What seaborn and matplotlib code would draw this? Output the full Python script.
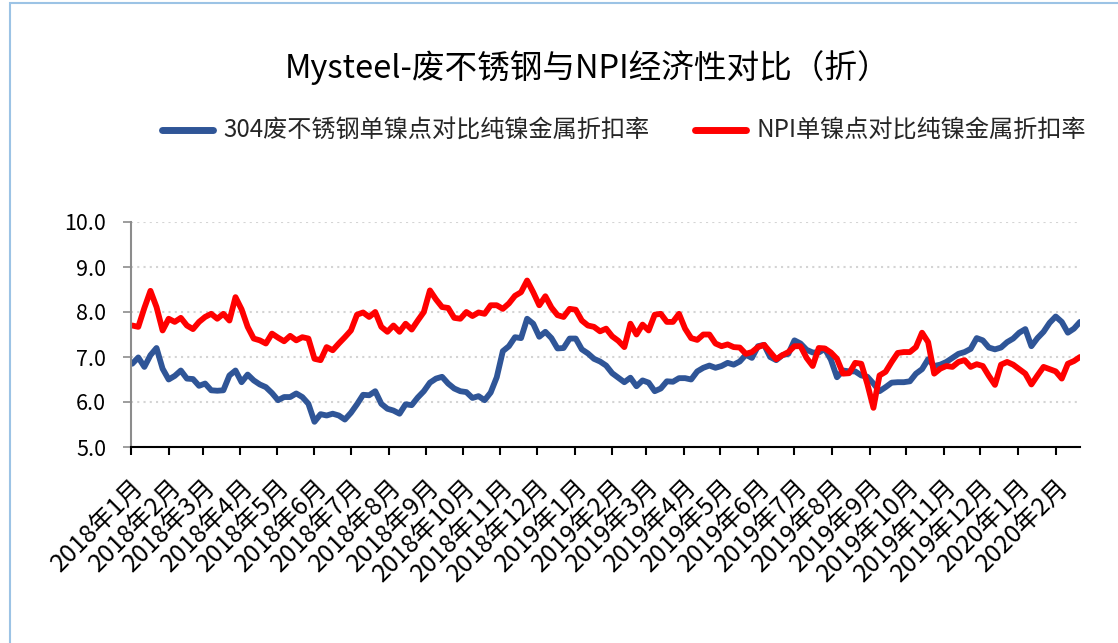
import matplotlib
matplotlib.use("Agg")
import matplotlib.pyplot as plt
import matplotlib.dates as mdates
from matplotlib.lines import Line2D
from matplotlib.patches import Rectangle
from matplotlib.ticker import FuncFormatter
import seaborn as sns
import numpy as np
import pandas as pd

# Data (one point every 5 days)
dates = pd.date_range("2018-01-02", periods=157, freq="5D")

scrap_name = "304废不锈钢单镍点对比纯镍金属折扣率"
npi_name = "NPI单镍点对比纯镍金属折扣率"

scrap_304 = [
    6.85, 6.99, 6.78, 7.04, 7.20, 6.74, 6.50, 6.58, 6.70, 6.52,
    6.51, 6.36, 6.41, 6.26, 6.25, 6.26, 6.59, 6.70, 6.44, 6.61,
    6.48, 6.39, 6.33, 6.20, 6.04, 6.11, 6.11, 6.19, 6.11, 5.96,
    5.56, 5.73, 5.70, 5.74, 5.70, 5.61, 5.76, 5.95, 6.16, 6.15,
    6.24, 5.96, 5.85, 5.81, 5.74, 5.95, 5.93, 6.10, 6.24, 6.43,
    6.52, 6.56, 6.41, 6.30, 6.24, 6.22, 6.09, 6.13, 6.04, 6.21,
    6.55, 7.13, 7.24, 7.44, 7.42, 7.85, 7.74, 7.45, 7.56, 7.42,
    7.19, 7.20, 7.41, 7.41, 7.17, 7.08, 6.96, 6.90, 6.81, 6.64,
    6.54, 6.44, 6.54, 6.35, 6.48, 6.43, 6.24, 6.30, 6.46, 6.45,
    6.53, 6.53, 6.50, 6.68, 6.76, 6.81, 6.76, 6.80, 6.87, 6.83,
    6.90, 7.05, 6.98, 7.24, 7.27, 7.00, 6.93, 7.04, 7.07, 7.37,
    7.30, 7.16, 7.10, 7.10, 7.18, 6.94, 6.55, 6.70, 6.68, 6.68,
    6.59, 6.56, 6.41, 6.24, 6.33, 6.43, 6.44, 6.44, 6.46, 6.63,
    6.73, 6.95, 6.80, 6.83, 6.89, 6.98, 7.07, 7.11, 7.18, 7.42,
    7.37, 7.21, 7.17, 7.21, 7.33, 7.41, 7.54, 7.62, 7.24, 7.42,
    7.56, 7.76, 7.90, 7.78, 7.54, 7.63, 7.78,
]

npi = [
    7.70, 7.67, 8.09, 8.47, 8.11, 7.59, 7.85, 7.78, 7.87, 7.70,
    7.62, 7.78, 7.89, 7.96, 7.85, 7.96, 7.81, 8.33, 8.06, 7.67,
    7.41, 7.37, 7.30, 7.52, 7.43, 7.35, 7.47, 7.37, 7.44, 7.41,
    6.96, 6.93, 7.22, 7.15, 7.30, 7.44, 7.59, 7.94, 7.99, 7.89,
    8.00, 7.67, 7.56, 7.70, 7.56, 7.74, 7.61, 7.81, 8.00, 8.48,
    8.28, 8.11, 8.09, 7.87, 7.85, 8.00, 7.91, 7.99, 7.96, 8.15,
    8.15, 8.07, 8.19, 8.36, 8.44, 8.70, 8.44, 8.15, 8.35, 8.10,
    7.93, 7.89, 8.07, 8.05, 7.81, 7.70, 7.67, 7.57, 7.63, 7.46,
    7.36, 7.22, 7.74, 7.50, 7.72, 7.59, 7.94, 7.96, 7.78, 7.78,
    7.96, 7.63, 7.42, 7.38, 7.50, 7.50, 7.30, 7.24, 7.28, 7.22,
    7.21, 7.07, 7.11, 7.22, 7.27, 7.11, 6.95, 7.04, 7.11, 7.24,
    7.24, 6.98, 6.80, 7.20, 7.19, 7.10, 6.96, 6.63, 6.64, 6.87,
    6.85, 6.40, 5.87, 6.59, 6.67, 6.89, 7.09, 7.11, 7.11, 7.22,
    7.54, 7.33, 6.63, 6.74, 6.80, 6.78, 6.89, 6.93, 6.78, 6.84,
    6.80, 6.58, 6.38, 6.83, 6.89, 6.83, 6.73, 6.63, 6.39, 6.59,
    6.78, 6.73, 6.68, 6.52, 6.85, 6.91, 7.00,
]

colors = {scrap_name: "#2F5597", npi_name: "#FF0000"}

df = pd.DataFrame({"date": dates, scrap_name: scrap_304, npi_name: npi})
df_long = df.melt(id_vars="date", var_name="series", value_name="value")

sns.set_theme(style="white")
plt.rcParams['font.family'] = ['Noto Sans CJK SC', 'DejaVu Sans']

fig = plt.figure(figsize=(11.18, 6.43), dpi=100)
ax = fig.add_axes([131 / 1118, 1 - 447 / 643, (1080 - 131) / 1118, 225 / 643])

sns.lineplot(data=df_long, x="date", y="value", hue="series", palette=colors,
             linewidth=4.2, ax=ax, legend=False)

# axes styling
ax.set_ylim(5, 10)
ax.set_yticks(np.arange(5, 10.01, 1))
ax.yaxis.set_major_formatter(FuncFormatter(lambda v, p: f"{v:.1f}"))
ax.set_xlim(pd.Timestamp("2018-01-01"), pd.Timestamp("2020-02-21"))
ax.xaxis.set_major_locator(mdates.MonthLocator())
ax.xaxis.set_major_formatter(FuncFormatter(
    lambda x, p: f"{mdates.num2date(x).year}年{mdates.num2date(x).month}月"))
ax.set_xlabel("")
ax.set_ylabel("")

ax.yaxis.grid(True, linestyle=(0, (1, 2)), color="#d4d4d4", linewidth=1.5)
ax.xaxis.grid(False)
for s in ["top", "right"]:
    ax.spines[s].set_visible(False)
ax.spines["left"].set_color("#8c8c8c")
ax.spines["left"].set_linewidth(1.5)
ax.spines["bottom"].set_color("#000000")
ax.spines["bottom"].set_linewidth(1.5)

ax.tick_params(axis="x", bottom=True, direction="out", length=5.5, width=1.5,
               labelsize=18, pad=14, colors="black")
ax.tick_params(axis="y", left=True, direction="out", length=6, width=1.2,
               labelsize=15.5, pad=12, colors="black")
ax.tick_params(axis="y", color="#8c8c8c")
for lab in ax.get_xticklabels():
    lab.set_rotation(45)
    lab.set_ha("right")
    lab.set_rotation_mode("anchor")

# title and legend
fig.text(588 / 1118, 1 - 68 / 643, "Mysteel-废不锈钢与NPI经济性对比（折）",
         ha="center", va="center", fontsize=23.5, color="black")
handles = [Line2D([], [], color=colors[n], lw=5) for n in [scrap_name, npi_name]]
fig.legend(handles, [scrap_name, npi_name], loc="center",
           bbox_to_anchor=(624 / 1118, 1 - 131 / 643), ncol=2, frameon=False,
           fontsize=17.4, handlelength=2.1, handletextpad=0.42, columnspacing=1.9)

# light blue frame around the picture
fig.patches.append(Rectangle((10 / 1118, -0.02), 1.1, 1 - 3 / 643 + 0.02,
                             transform=fig.transFigure, fill=False,
                             edgecolor="#9CC3E5", linewidth=1.5))

fig.savefig("out.png", dpi=100)
